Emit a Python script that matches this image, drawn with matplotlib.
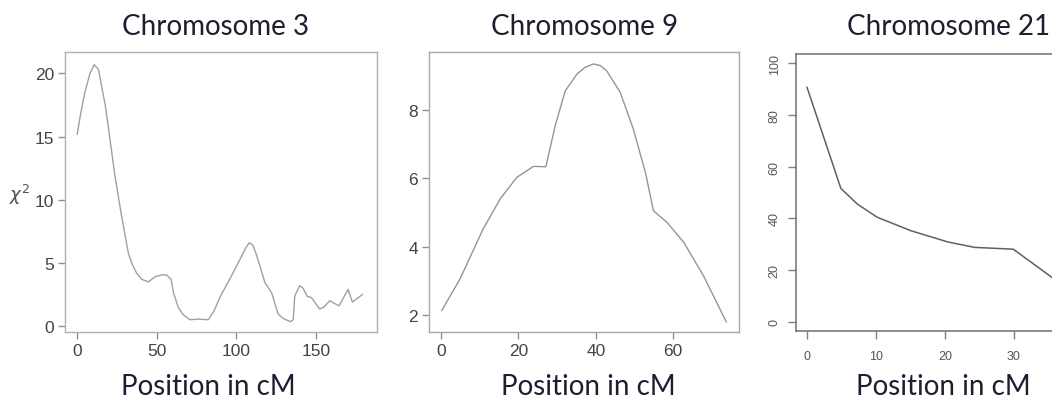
import matplotlib
matplotlib.use("Agg")
import matplotlib.pyplot as plt

plt.rcParams["font.family"] = ["Liberation Sans", "DejaVu Sans"]

# ---- data ----
chr3_pos = [0, 2.4, 4.8, 8.0, 10.7, 13.4, 15.3, 17.6, 19.5, 23.7, 27.9, 32.1, 34.2, 37.3,
            40.5, 44.7, 49, 53, 56.2, 59, 60.5, 63.6, 66.7, 70.8, 76, 82.4, 86, 89.8,
            99.2, 106, 108.2, 110.5, 112.8, 118, 122.2, 126.3, 129.5, 134.1, 135.8,
            136.8, 140, 142, 144.6, 147.3, 152.5, 155, 158.8, 164.6, 170.3, 173, 179.3]
chr3_chi2 = [15.2, 17.0, 18.5, 20.0, 20.7, 20.3, 19.0, 17.5, 15.8, 11.9, 8.7, 5.8, 5.0, 4.2,
             3.7, 3.5, 3.9, 4.05, 4.05, 3.7, 2.65, 1.45, 0.9, 0.5, 0.55, 0.5, 1.2, 2.3,
             4.5, 6.2, 6.6, 6.4, 5.6, 3.45, 2.65, 0.95, 0.6, 0.35, 0.5,
             2.4, 3.2, 3.0, 2.35, 2.25, 1.35, 1.5, 2.0, 1.6, 2.9, 1.9, 2.5]

chr9_pos = [0.2, 4.9, 10.9, 15.3, 19.6, 23.9, 27.1, 29.5, 32.1, 35.1, 37.2, 39.4, 41.2,
            42.8, 46.3, 49.7, 52.8, 54.9, 58.4, 62.7, 67.8, 73.7]
chr9_chi2 = [2.13, 3.05, 4.52, 5.4, 6.03, 6.35, 6.34, 7.54, 8.56, 9.05, 9.25, 9.35, 9.3,
             9.15, 8.52, 7.44, 6.18, 5.05, 4.71, 4.13, 3.15, 1.8]

chr21_pos = [0, 4.9, 7.3, 10.2, 15.1, 20.4, 24.3, 29.9, 35.2, 37.0]
chr21_chi2 = [90.6, 51.6, 45.5, 40.4, 35.2, 30.9, 28.8, 28.1, 17.8, 14.0]

titles = ["Chromosome 3", "Chromosome 9", "Chromosome 21"]
xlabel = "Position in cM"
ylabel = r"$\chi^2$"
chr3_xticks = [0, 50, 100, 150]
chr3_yticks = [0, 5, 10, 15, 20]
chr9_xticks = [0, 20, 40, 60]
chr9_yticks = [2, 4, 6, 8]
chr21_xticks = [0, 10, 20, 30]
chr21_yticks = [0, 20, 40, 60, 80, 100]

W, H = 1052, 402
fig = plt.figure(figsize=(W / 100, H / 100), dpi=100)
fig.patch.set_facecolor("white")

def fx(px):
    return px / W

def fy(py):
    return 1 - py / H

def make_axes(l, r, t, b):
    return fig.add_axes([fx(l), fy(b), (r - l) / W, (b - t) / H])

tick_col = "#444444"
title_col = "#1e1e30"
title_font = "Lato"

# Panel 1
ax1 = make_axes(65, 377, 53, 333)
ax1.plot(chr3_pos, chr3_chi2, color="#a0a0a0", lw=1.0)
ax1.set_xlim(-7.7, 188.5)
ax1.set_ylim(-0.47, 21.7)
ax1.set_xticks(chr3_xticks)
ax1.set_yticks(chr3_yticks)
for s in ax1.spines.values():
    s.set_color("#b0b0b0")
    s.set_linewidth(1.0)
ax1.tick_params(length=5, width=1.0, color="#909090", labelcolor=tick_col,
                labelsize=12.5, pad=3)
fig.text(fx(20), fy(195), ylabel, fontsize=13, color="#505050", ha="center", va="center")

# Panel 2
ax2 = make_axes(429, 739, 53, 333)
ax2.plot(chr9_pos, chr9_chi2, color="#959595", lw=1.0)
ax2.set_xlim(-3.1, 77.0)
ax2.set_ylim(1.50, 9.70)
ax2.set_xticks(chr9_xticks)
ax2.set_yticks(chr9_yticks)
for s in ax2.spines.values():
    s.set_color("#a8a8a8")
    s.set_linewidth(1.0)
ax2.tick_params(length=5, width=1.0, color="#909090", labelcolor=tick_col,
                labelsize=12.5, pad=3)

# Panel 3 (cropped at right edge of the figure)
ax3 = make_axes(796, 1094, 55, 332)
ax3.plot(chr21_pos, chr21_chi2, color="#606060", lw=1.1)
ax3.set_xlim(-1.6, 41.6)
ax3.set_ylim(-3.5, 103.5)
ax3.set_xticks(chr21_xticks)
ax3.set_yticks(chr21_yticks)
for s in ax3.spines.values():
    s.set_color("#707070")
    s.set_linewidth(1.1)
ax3.tick_params(length=6, width=1.0, color="#808080", labelcolor="#555555",
                labelsize=9, pad=5)
for lab in ax3.get_yticklabels():
    lab.set_rotation(90)
    lab.set_va("center")
ax3.tick_params(axis="x", pad=8)

for ax in (ax1, ax2, ax3):
    ax.set_facecolor("white")

# Titles and x labels
title_x = [216, 585, 949]
xlabel_x = [208, 588, 943]
for tx, lx, t in zip(title_x, xlabel_x, titles):
    fig.text(fx(tx), fy(27), t, fontsize=20, family=title_font, color=title_col,
             ha="center", va="center")
    fig.text(fx(lx), fy(387), xlabel, fontsize=20, family=title_font, color=title_col,
             ha="center", va="center")

fig.savefig("out.png", dpi=100, facecolor="white")
